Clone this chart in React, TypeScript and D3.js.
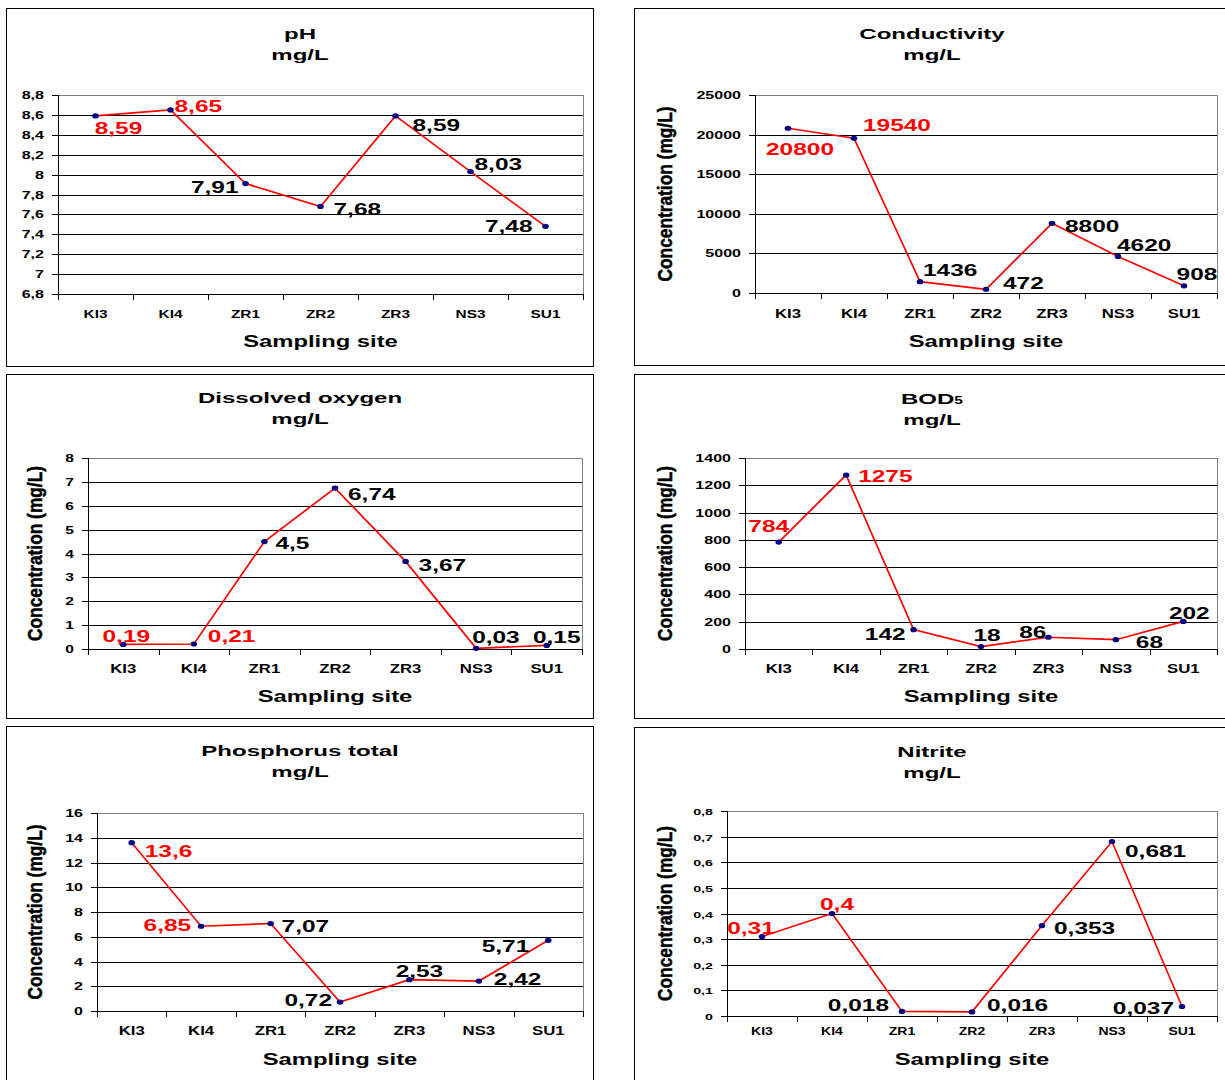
import React from 'react';
import * as d3 from 'd3';

// Sampling sites along the x axis; the first two are shown with red value labels
const sites = ['KI3', 'KI4', 'ZR1', 'ZR2', 'ZR3', 'NS3', 'SU1'];
const highlightedSites = ['KI3', 'KI4'];

// Measured values per site
const phValues = [8.59, 8.65, 7.91, 7.68, 8.59, 8.03, 7.48];
const conductivityValues = [20800, 19540, 1436, 472, 8800, 4620, 908];
const oxygenValues = [0.19, 0.21, 4.5, 6.74, 3.67, 0.03, 0.15];
const bodValues = [784, 1275, 142, 18, 86, 68, 202];
const phosphorusValues = [13.6, 6.85, 7.07, 0.72, 2.53, 2.42, 5.71];
const nitriteValues = [0.31, 0.4, 0.018, 0.016, 0.353, 0.681, 0.037];

// Y axis tick values
const phTicks = [6.8, 7, 7.2, 7.4, 7.6, 7.8, 8, 8.2, 8.4, 8.6, 8.8];
const conductivityTicks = [0, 5000, 10000, 15000, 20000, 25000];
const oxygenTicks = [0, 1, 2, 3, 4, 5, 6, 7, 8];
const bodTicks = [0, 200, 400, 600, 800, 1000, 1200, 1400];
const phosphorusTicks = [0, 2, 4, 6, 8, 10, 12, 14, 16];
const nitriteTicks = [0, 0.1, 0.2, 0.3, 0.4, 0.5, 0.6, 0.7, 0.8];

const FONT = '"Liberation Sans", Arial, sans-serif';
const SX = 1.5; // horizontal widening of all text

const fmt = (v: number) => String(v).replace('.', ',');

type Anchor = 'start' | 'middle' | 'end';
type Placement = [number, number, Anchor];

interface PanelSpec {
  title: string;
  titleSub?: string;
  values: number[];
  ticks: number[];
  frame: { x: number; y: number; w: number; h: number };
  plot: { left: number; right: number; top: number; bottom: number };
  titleX: number;
  titleY: number;
  yTitleX?: number;
  tickFont: number;
  catFont: number;
  catOffset: number;
  siteOffset: number;
  labels: Placement[];
}

const panels: PanelSpec[] = [
  {
    title: 'pH',
    values: phValues,
    ticks: phTicks,
    frame: { x: 6.5, y: 8.5, w: 587, h: 358 },
    plot: { left: 58, right: 583, top: 95, bottom: 294 },
    titleX: 300,
    titleY: 39,
    tickFont: 10.7,
    catFont: 11,
    catOffset: 24,
    siteOffset: 53,
    labels: [
      [23, 18, 'middle'],
      [4, 2, 'start'],
      [-7, 9, 'end'],
      [13, 9, 'start'],
      [17, 15, 'start'],
      [4, -2, 'start'],
      [-13, 6, 'end'],
    ],
  },
  {
    title: 'Conductivity',
    values: conductivityValues,
    ticks: conductivityTicks,
    frame: { x: 634.5, y: 8.5, w: 620, h: 357 },
    plot: { left: 755, right: 1217, top: 95, bottom: 293 },
    titleX: 932,
    titleY: 39,
    yTitleX: 672,
    tickFont: 10.7,
    catFont: 12,
    catOffset: 25,
    siteOffset: 54,
    labels: [
      [12, 27, 'middle'],
      [9, -7, 'start'],
      [3, -6, 'start'],
      [17, 0, 'start'],
      [13, 9, 'start'],
      [-1, -5, 'start'],
      [13, -6, 'middle'],
    ],
  },
  {
    title: 'Dissolved oxygen',
    values: oxygenValues,
    ticks: oxygenTicks,
    frame: { x: 6.5, y: 374.5, w: 587, h: 344 },
    plot: { left: 88, right: 582, top: 458, bottom: 649 },
    titleX: 300,
    titleY: 403,
    yTitleX: 42,
    tickFont: 10.4,
    catFont: 12,
    catOffset: 24,
    siteOffset: 53,
    labels: [
      [3, -2, 'middle'],
      [14, -2, 'start'],
      [11, 7, 'start'],
      [13, 12, 'start'],
      [13, 10, 'start'],
      [-4, -5, 'start'],
      [10, -2, 'middle'],
    ],
  },
  {
    title: 'BOD',
    titleSub: '5',
    values: bodValues,
    ticks: bodTicks,
    frame: { x: 634.5, y: 374.5, w: 620, h: 344 },
    plot: { left: 745, right: 1217, top: 458, bottom: 649 },
    titleX: 932,
    titleY: 404,
    yTitleX: 672,
    tickFont: 10.7,
    catFont: 12,
    catOffset: 24,
    siteOffset: 53,
    labels: [
      [-10, -10, 'middle'],
      [12, 7, 'start'],
      [-8, 10, 'end'],
      [6, -6, 'middle'],
      [-2, 1, 'end'],
      [20, 8, 'start'],
      [6, -2, 'middle'],
    ],
  },
  {
    title: 'Phosphorus total',
    values: phosphorusValues,
    ticks: phosphorusTicks,
    frame: { x: 6.5, y: 726.5, w: 587, h: 420 },
    plot: { left: 97, right: 583, top: 813, bottom: 1011 },
    titleX: 300,
    titleY: 756,
    yTitleX: 42,
    tickFont: 10.7,
    catFont: 12,
    catOffset: 24,
    siteOffset: 54,
    labels: [
      [13, 14, 'start'],
      [-10, 5, 'end'],
      [11, 8, 'start'],
      [-8, 4, 'end'],
      [10, -3, 'middle'],
      [15, 4, 'start'],
      [-19, 12, 'end'],
    ],
  },
  {
    title: 'Nitrite',
    values: nitriteValues,
    ticks: nitriteTicks,
    frame: { x: 634.5, y: 727.5, w: 620, h: 420 },
    plot: { left: 727, right: 1217, top: 811, bottom: 1016 },
    titleX: 932,
    titleY: 757,
    yTitleX: 672,
    tickFont: 9.5,
    catFont: 10,
    catOffset: 19,
    siteOffset: 49,
    labels: [
      [-11, -3, 'middle'],
      [5, -4, 'middle'],
      [-13, 0, 'end'],
      [15, -1, 'start'],
      [12, 8, 'start'],
      [13, 16, 'start'],
      [-8, 7, 'end'],
    ],
  },
];

function WideText(props: {
  x: number;
  y: number;
  size: number;
  anchor?: Anchor;
  fill?: string;
  sx?: number;
  children: React.ReactNode;
}) {
  const { x, y, size, anchor = 'start', fill = '#000', sx = SX, children } = props;
  return (
    <text
      transform={`translate(${x},${y}) scale(${sx},1)`}
      fontSize={size}
      fontFamily={FONT}
      fontWeight="bold"
      textAnchor={anchor}
      fill={fill}
    >
      {children}
    </text>
  );
}

function Panel({ spec }: { spec: PanelSpec }) {
  const { plot, frame, values, ticks } = spec;
  const x = d3.scaleBand<string>().domain(sites).range([plot.left, plot.right]).padding(0);
  const y = d3
    .scaleLinear()
    .domain([ticks[0], ticks[ticks.length - 1]])
    .range([plot.bottom, plot.top]);
  const cx = (s: string) => (x(s) ?? 0) + x.bandwidth() / 2;
  const pts = sites.map((s, i) => ({ site: s, v: values[i], px: cx(s), py: y(values[i]) }));
  const line = d3
    .line<{ px: number; py: number }>()
    .x((d) => d.px)
    .y((d) => d.py);
  const crisp = (v: number) => Math.round(v) + 0.5;
  const boundaries = sites.map((s) => x(s) ?? 0).concat([plot.right]);
  const midX = (plot.left + plot.right) / 2;
  const midY = (plot.top + plot.bottom) / 2;

  return (
    <g>
      <rect x={frame.x} y={frame.y} width={frame.w} height={frame.h} fill="#fff" stroke="#000" strokeWidth={1} />

      {/* title */}
      <WideText x={spec.titleX} y={spec.titleY} size={15.5} anchor="middle" sx={1.55}>
        {spec.title}
        {spec.titleSub ? <tspan fontSize={10}>{spec.titleSub}</tspan> : null}
      </WideText>
      <WideText x={spec.titleX} y={spec.titleY + 21} size={15.5} anchor="middle" sx={1.55}>
        mg/L
      </WideText>

      {/* plot border: top and right */}
      <line x1={plot.left} x2={plot.right} y1={crisp(plot.top)} y2={crisp(plot.top)} stroke="#808080" />
      <line x1={crisp(plot.right)} x2={crisp(plot.right)} y1={plot.top} y2={plot.bottom} stroke="#808080" />

      {/* horizontal gridlines */}
      {ticks.slice(1, -1).map((t) => (
        <line key={`g${t}`} x1={plot.left} x2={plot.right} y1={crisp(y(t))} y2={crisp(y(t))} stroke="#000" />
      ))}

      {/* y axis */}
      <line x1={crisp(plot.left)} x2={crisp(plot.left)} y1={plot.top} y2={plot.bottom + 6} stroke="#000" />
      {ticks.map((t) => (
        <g key={`t${t}`}>
          <line x1={plot.left - 6} x2={plot.left} y1={crisp(y(t))} y2={crisp(y(t))} stroke="#000" />
          <WideText x={plot.left - 14} y={y(t) + 4} size={spec.tickFont} anchor="end">
            {fmt(t)}
          </WideText>
        </g>
      ))}

      {/* x axis */}
      <line x1={plot.left} x2={plot.right} y1={crisp(plot.bottom)} y2={crisp(plot.bottom)} stroke="#000" />
      {boundaries.map((b, i) => (
        <line key={`b${i}`} x1={crisp(b)} x2={crisp(b)} y1={plot.bottom} y2={plot.bottom + 6} stroke="#000" />
      ))}
      {sites.map((s) => (
        <WideText key={`c${s}`} x={cx(s)} y={plot.bottom + spec.catOffset} size={spec.catFont} anchor="middle" sx={1.4}>
          {s}
        </WideText>
      ))}
      <WideText x={midX} y={plot.bottom + spec.siteOffset} size={17} anchor="middle" sx={1.4}>
        Sampling site
      </WideText>

      {spec.yTitleX !== undefined ? (
        <text
          transform={`translate(${spec.yTitleX},${midY}) rotate(-90)`}
          fontSize={20}
          fontFamily={FONT}
          fontWeight="bold"
          textAnchor="middle"
          textLength={175}
          lengthAdjust="spacingAndGlyphs"
          fill="#000"
          stroke="#000"
          strokeWidth={0.5}
        >
          Concentration (mg/L)
        </text>
      ) : null}

      {/* series */}
      <path d={line(pts) ?? ''} fill="none" stroke="#ff0000" strokeWidth={1.7} />
      {pts.map((p) => (
        <ellipse key={`m${p.site}`} cx={p.px} cy={p.py} rx={3.3} ry={2.6} fill="#000080" />
      ))}
      {pts.map((p, i) => {
        const [dx, dy, anchor] = spec.labels[i];
        return (
          <WideText
            key={`l${p.site}`}
            x={p.px + dx}
            y={p.py + dy}
            size={16.3}
            anchor={anchor}
            fill={highlightedSites.includes(p.site) ? '#ff0000' : '#000'}
          >
            {fmt(p.v)}
          </WideText>
        );
      })}
    </g>
  );
}

export default function App() {
  return (
    <svg
      width={1225}
      height={1080}
      viewBox="0 0 1225 1080"
      style={{ position: 'absolute', left: 0, top: 0, background: '#fff', display: 'block' }}
    >
      <rect x={0} y={0} width={1225} height={1080} fill="#fff" />
      {panels.map((p) => (
        <Panel key={p.title} spec={p} />
      ))}
    </svg>
  );
}
